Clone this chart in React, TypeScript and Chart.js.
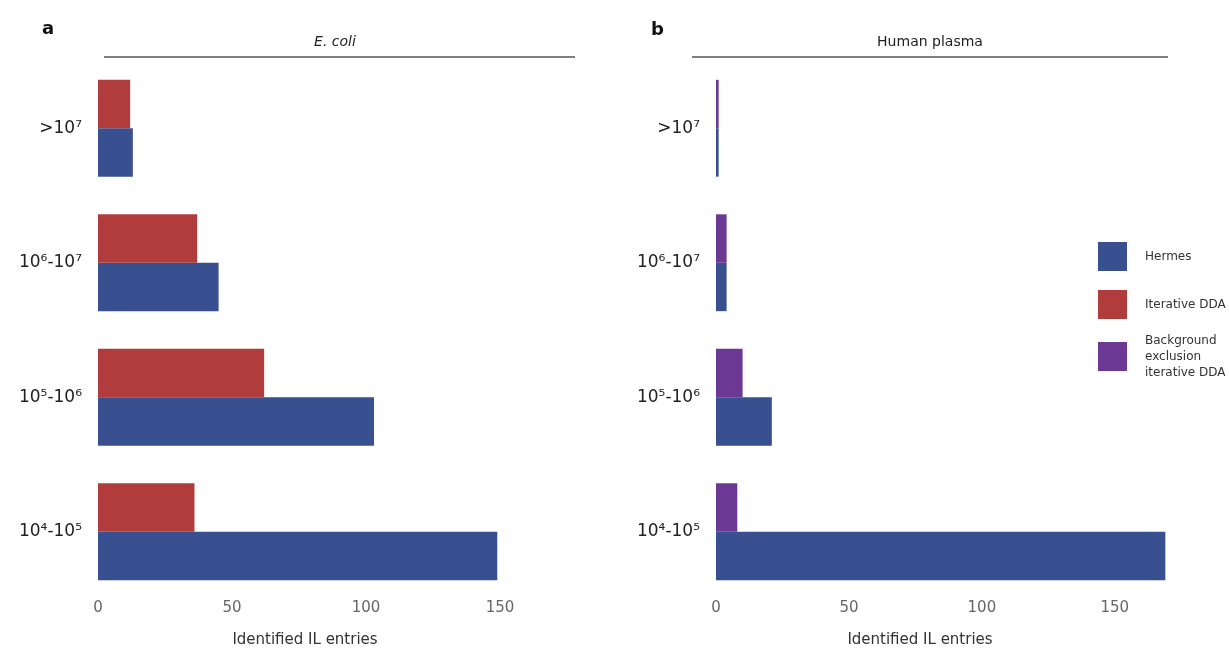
import React, { useEffect, useRef } from "react";
import { Chart, registerables } from "chart.js";
Chart.register(...registerables);

const categories = [">10⁷", "10⁶-10⁷", "10⁵-10⁶", "10⁴-10⁵"];
const ecoliHermes = [13, 45, 103, 149];
const ecoliIterative = [12, 37, 62, 36];
const plasmaHermes = [1, 4, 21, 169];
const plasmaBackground = [1, 4, 10, 8];
const xTicks = [0, 50, 100, 150];
const seriesNames = ["Hermes", "Iterative DDA", "Background exclusion iterative DDA"];
const panelTitles = ["E. coli", "Human plasma"];
const panelLetters = ["a", "b"];
const xTitle = "Identified IL entries";

const COLORS = { hermes: "#38508f", iterative: "#b13c3c", background: "#6b3894" };
const FONT = "'DejaVu Sans', sans-serif";

type Decor = {
  letter: string; lx: number; ly: number;
  title: string; italic: boolean; tx: number; ty: number;
  lineL: number; lineR: number; lineY: number;
  xtx: number; xty: number;
  legend?: { x: number; tx: number; items: { color: string; y: number; lines: string[] }[] };
};

function decorPlugin(d: Decor) {
  return {
    id: "decor",
    afterDraw(chart: any) {
      const ctx = chart.ctx as CanvasRenderingContext2D;
      ctx.save();
      ctx.fillStyle = "#111";
      ctx.font = `bold 18px ${FONT}`;
      ctx.textAlign = "left";
      ctx.textBaseline = "middle";
      ctx.fillText(d.letter, d.lx, d.ly);
      ctx.fillStyle = "#222";
      ctx.font = `${d.italic ? "italic " : ""}14px ${FONT}`;
      ctx.textAlign = "center";
      ctx.fillText(d.title, d.tx, d.ty);
      ctx.strokeStyle = "#555";
      ctx.lineWidth = 1.3;
      ctx.beginPath();
      ctx.moveTo(d.lineL, d.lineY);
      ctx.lineTo(d.lineR, d.lineY);
      ctx.stroke();
      ctx.fillStyle = "#333";
      ctx.font = `15px ${FONT}`;
      ctx.fillText(xTitle, d.xtx, d.xty);
      if (d.legend) {
        const lg = d.legend;
        ctx.textAlign = "left";
        ctx.font = `12px ${FONT}`;
        lg.items.forEach((it) => {
          ctx.fillStyle = it.color;
          ctx.fillRect(lg.x, it.y, 29, 29);
          ctx.fillStyle = "#333";
          const n = it.lines.length;
          it.lines.forEach((ln, i) => {
            ctx.fillText(ln, lg.tx, it.y + 14.5 + (i - (n - 1) / 2) * 16);
          });
        });
      }
      ctx.restore();
    },
  };
}

function makeOptions(max: number, yWidth: number, padRight: number) {
  return {
    indexAxis: "y" as const,
    animation: false as const,
    responsive: false,
    devicePixelRatio: 1,
    layout: { padding: { top: 61, right: padRight, left: 0, bottom: 0 } },
    plugins: { legend: { display: false }, title: { display: false }, tooltip: { enabled: false } },
    scales: {
      x: {
        type: "linear" as const,
        min: 0,
        max,
        grid: { display: false, drawTicks: false },
        border: { display: false },
        ticks: { stepSize: 50, font: { family: FONT, size: 15 }, color: "#666", padding: 0 },
        afterBuildTicks: (s: any) => {
          s.ticks = xTicks.map((v) => ({ value: v }));
        },
        afterFit: (s: any) => {
          s.height = 52;
        },
      },
      y: {
        type: "category" as const,
        labels: categories,
        grid: { display: false, drawTicks: false },
        border: { display: false },
        ticks: { font: { family: FONT, size: 17 }, color: "#222", padding: 16 },
        afterFit: (s: any) => {
          s.width = yWidth;
        },
      },
    },
  };
}

export default function App() {
  const refA = useRef<HTMLCanvasElement>(null);
  const refB = useRef<HTMLCanvasElement>(null);
  useEffect(() => {
    const a = new Chart(refA.current!, {
      type: "bar",
      data: {
        labels: categories,
        datasets: [
          { label: seriesNames[1], data: ecoliIterative, backgroundColor: COLORS.iterative, barPercentage: 1, categoryPercentage: 0.72 },
          { label: seriesNames[0], data: ecoliHermes, backgroundColor: COLORS.hermes, barPercentage: 1, categoryPercentage: 0.72 },
        ],
      },
      options: makeOptions(178, 98, 45) as any,
      plugins: [
        decorPlugin({
          letter: panelLetters[0], lx: 42, ly: 29,
          title: panelTitles[0], italic: true, tx: 335, ty: 42,
          lineL: 104, lineR: 575, lineY: 57,
          xtx: 305, xty: 640,
        }),
      ],
    });
    const b = new Chart(refB.current!, {
      type: "bar",
      data: {
        labels: categories,
        datasets: [
          { label: seriesNames[2], data: plasmaBackground, backgroundColor: COLORS.background, barPercentage: 1, categoryPercentage: 0.72 },
          { label: seriesNames[0], data: plasmaHermes, backgroundColor: COLORS.hermes, barPercentage: 1, categoryPercentage: 0.72 },
        ],
      },
      options: makeOptions(170, 96, 61) as any,
      plugins: [
        decorPlugin({
          letter: panelLetters[1], lx: 31, ly: 30,
          title: panelTitles[1], italic: false, tx: 310, ty: 42,
          lineL: 72, lineR: 548, lineY: 57,
          xtx: 300, xty: 640,
          legend: {
            x: 478,
            tx: 525,
            items: [
              { color: COLORS.hermes, y: 242, lines: [seriesNames[0]] },
              { color: COLORS.iterative, y: 290, lines: [seriesNames[1]] },
              { color: COLORS.background, y: 342, lines: ["Background", "exclusion", "iterative DDA"] },
            ],
          },
        }),
      ],
    });
    return () => {
      a.destroy();
      b.destroy();
    };
  }, []);
  return (
    <div style={{ position: "absolute", left: 0, top: 0, width: 1229, height: 651, background: "#fff" }}>
      <canvas ref={refA} width={620} height={651} style={{ position: "absolute", left: 0, top: 0 }} />
      <canvas ref={refB} width={609} height={651} style={{ position: "absolute", left: 620, top: 0 }} />
    </div>
  );
}
